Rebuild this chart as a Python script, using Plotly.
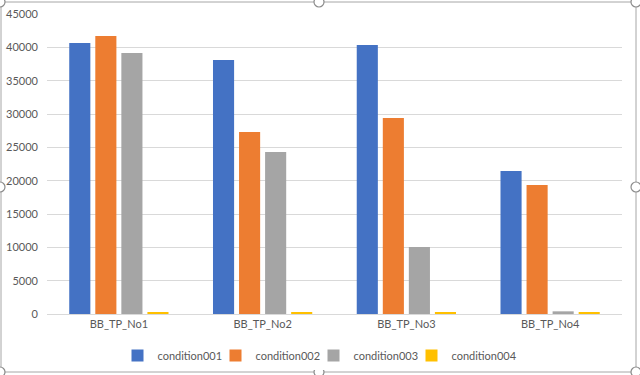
import plotly.graph_objects as go

categories = ["BB_TP_No1", "BB_TP_No2", "BB_TP_No3", "BB_TP_No4"]
series_names = ["condition001", "condition002", "condition003", "condition004"]
condition001 = [40650, 38100, 40350, 21450]
condition002 = [41700, 27300, 29400, 19350]
condition003 = [39150, 24300, 10050, 400]
condition004 = [200, 200, 200, 200]
colors = ["#4472C4", "#ED7D31", "#A5A5A5", "#FFC000"]
y_ticks = [0, 5000, 10000, 15000, 20000, 25000, 30000, 35000, 40000, 45000]

fig = go.Figure()
series = [condition001, condition002, condition003, condition004]
for i, (name, vals, col) in enumerate(zip(series_names, series, colors)):
    fig.add_trace(go.Bar(x=categories, y=vals, name=name,
                         marker=dict(color=col, line=dict(width=0)),
                         legendwidth=53 if i < len(series) - 1 else 66))

W, H = 640, 375
ml, mr, mt, mb = 47, 18, 14, 61

def px(x):
    return (x - ml) / (W - ml - mr)

def py(y):
    return (H - mb - y) / (H - mt - mb)

shapes = [dict(type="rect", xref="paper", yref="paper",
               x0=px(1), x1=px(636), y0=py(2), y1=py(372),
               line=dict(color="#A6A6A6", width=1), layer="below")]
for (cx, cy) in [(0, 2), (319, 2), (636, 2), (0, 187), (636, 187), (0, 372), (319, 372), (636, 372)]:
    r = 5
    shapes.append(dict(type="circle", xref="paper", yref="paper",
                       x0=px(cx - r), x1=px(cx + r), y0=py(cy + r), y1=py(cy - r),
                       fillcolor="white", line=dict(color="#8C8C8C", width=1.2)))

fig.update_layout(
    width=W, height=H,
    margin=dict(l=ml, r=mr, t=mt, b=mb, autoexpand=False),
    paper_bgcolor="white", plot_bgcolor="white",
    barmode="group", bargap=0.275, bargroupgap=0.19,
    font=dict(family="Lato, Open Sans, sans-serif", size=11, color="#595959"),
    legend=dict(orientation="h", x=0.5, xanchor="center", xref="container",
                y=0.052, yanchor="middle", yref="container",
                font=dict(size=11, color="#595959"), itemwidth=30),
    xaxis=dict(showgrid=False, showline=True, linecolor="#D9D9D9", ticks="",
               tickfont=dict(size=11, color="#595959")),
    yaxis=dict(range=[0, 45000], tickvals=y_ticks, tickformat="d", showgrid=True,
               gridcolor="#D9D9D9", zeroline=False, ticks="", ticklabelstandoff=8,
               tickfont=dict(size=11, color="#595959")),
    shapes=shapes,
)

fig.write_html("out.html",
               config={"displayModeBar": False},
               post_script="document.body.style.margin='0';document.body.style.overflow='hidden';")
